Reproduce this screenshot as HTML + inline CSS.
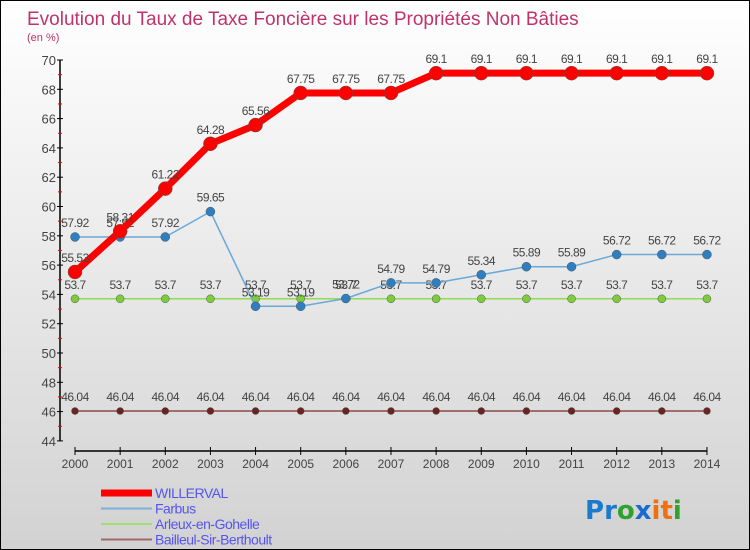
<!DOCTYPE html>
<html><head><meta charset="utf-8"><style>
body{margin:0}
#c{width:750px;height:550px;position:relative;box-sizing:border-box;border:1px solid #000;background:linear-gradient(#fff,#d2d2d2);font-family:"Liberation Sans",sans-serif;overflow:hidden}
</style></head><body>
<div id="c">
<svg id="s" width="748" height="548"></svg>
</div>
<script>
const years=["2000","2001","2002","2003","2004","2005","2006","2007","2008","2009","2010","2011","2012","2013","2014"];
const willerval=[55.53,58.31,61.22,64.28,65.56,67.75,67.75,67.75,69.1,69.1,69.1,69.1,69.1,69.1,69.1];
const farbus=[57.92,57.92,57.92,59.65,53.19,53.19,53.72,54.79,54.79,55.34,55.89,55.89,56.72,56.72,56.72];
const arleux=[53.7,53.7,53.7,53.7,53.7,53.7,53.7,53.7,53.7,53.7,53.7,53.7,53.7,53.7,53.7];
const bailleul=[46.04,46.04,46.04,46.04,46.04,46.04,46.04,46.04,46.04,46.04,46.04,46.04,46.04,46.04,46.04];
const yTicks=[44,46,48,50,52,54,56,58,60,62,64,66,68,70];
const s=document.getElementById('s');const NS='http://www.w3.org/2000/svg';
function el(t,a,txt){const e=document.createElementNS(NS,t);for(const k in a)e.setAttribute(k,a[k]);if(txt!==undefined)e.textContent=txt;s.appendChild(e);return e;}
const X=i=>74+i*45.14, Y=v=>59+(70-v)*14.65;
let t=el('text',{x:26,y:24,'font-size':19,fill:'#c0336a'},'Evolution du Taux de Taxe Foncière sur les Propriétés Non Bâties');

t=el('text',{x:26,y:40,'font-size':11,fill:'#c0336a'},'(en %)');

let a=el('line',{x1:59,y1:Y(70),x2:59,y2:Y(44),stroke:'#000','stroke-width':1.5});

for(const v of yTicks){el('line',{x1:56,y1:Y(v),x2:62,y2:Y(v),stroke:'#000'});
 t=el('text',{x:55,y:Y(v)+5,'font-size':13,fill:'#444','text-anchor':'end'},v);
 
 if(v<70)el('line',{x1:57,y1:Y(v+1),x2:61,y2:Y(v+1),stroke:'#e00'});}
a=el('line',{x1:X(0),y1:450,x2:X(14),y2:450,stroke:'#000','stroke-width':1.5});

years.forEach((y,i)=>{el('line',{x1:X(i),y1:446,x2:X(i),y2:454,stroke:'#000'});
 t=el('text',{x:X(i),y:467,'font-size':12,fill:'#444','text-anchor':'middle'},y);
 });
function series(d,name,col,w,r,dot){
 const p=el('polyline',{points:d.map((v,i)=>X(i)+','+Y(v)).join(' '),fill:'none',stroke:col,'stroke-width':w,'stroke-linejoin':'round'});
 
 d.forEach((v,i)=>{const c=el('circle',{cx:X(i),cy:Y(v),r:r,fill:dot,stroke:'#555','stroke-width':0.5});
  
  const l=el('text',{x:X(i),y:Y(v)-10,'font-size':12,fill:'#444','text-anchor':'middle','letter-spacing':'-0.5'},v);
  });
}
series(bailleul,'bailleul','#8b4a4a',1.5,3.5,'#6b2222');
series(arleux,'arleux','#8fdc50',1.5,4,'#7ccc3c');
series(farbus,'farbus','#6aa8d8',1.5,4.5,'#2f7fc0');
series(willerval,'willerval','#f00',7,7,'#f00');
const leg=[['WILLERVAL','#f00',7],['Farbus','#7ab0dc',2],['Arleux-en-Gohelle','#9ee070',2],['Bailleul-Sir-Berthoult','#a06868',2]];
leg.forEach((g,i)=>{const y=491+i*15.5;
 const l=el('line',{x1:100,y1:y+1,x2:151,y2:y+1,stroke:g[1],'stroke-width':g[2]});
 
 const tx=el('text',{x:154,y:y+6,'font-size':14,fill:'#5555ee','letter-spacing':'-0.5'},g[0]);
 });
const logo=el('text',{x:584,y:518,'font-size':26,'font-weight':'bold','font-family':'DejaVu Sans, sans-serif'},'');

[['P','#1a7ad0'],['r','#1a7ad0'],['o','#30a030'],['x','#1a6ad0'],['i','#f07010'],['t','#f07010'],['i','#30a030']].forEach(c=>{const sp=document.createElementNS(NS,'tspan');sp.setAttribute('fill',c[1]);sp.textContent=c[0];logo.appendChild(sp);});
</script>
</body></html>
